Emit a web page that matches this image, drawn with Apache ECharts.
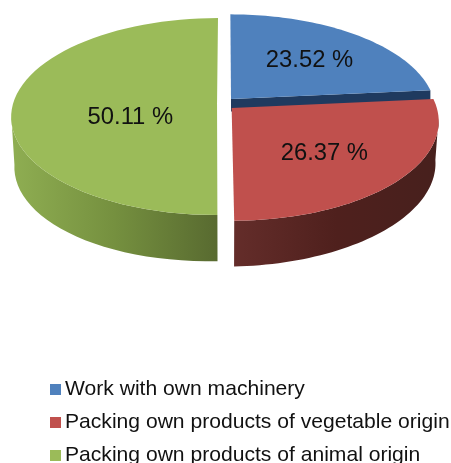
<!DOCTYPE html>
<html>
<head>
<meta charset="utf-8">
<style>
html, body { margin: 0; padding: 0; background: #fff; }
#main { width: 451px; height: 463px; }
</style>
<script src="https://cdn.jsdelivr.net/npm/echarts@6/dist/echarts.min.js"></script>
</head>
<body>
<div id="main"></div>
<script>
var categories = ['Work with own machinery', 'Packing own products of vegetable origin', 'Packing own products of animal origin'];
var values = [23.52, 26.37, 50.11];

var topColors = ['#4f81bd', '#c0504d', '#9bbb59'];
var cutColors = ['#1f3a5f', null, null]; // only the blue cut face shows
var wallStops = [
	['#2a4a75', '#1f3a5f'],
	['#642d2a', '#4f201d', '#47201d'],
	['#8fae52', '#75903f', '#586a30']
];
var labelRadius = [0.57, 0.6, 0.42];
var labelNudge = [[5, 0], [-4, 4], [-1, 14]];

// picture of the tilted pie
var cx = 225.4, cy = 103.7, rx = 204, ry = 96.8;
var persp = 0.13, depth = 46;
var explodeU = 0.041, explodeV = 0.066;

var total = values.reduce(function (a, b) { return a + b; }, 0);

function sliceAngles(index) {
	var start = 0;
	for (var i = 0; i < index; i++) {
		start += values[i] / total * Math.PI * 2;
	}
	return [start, start + values[index] / total * Math.PI * 2];
}

function project(u, v, lower) {
	var s = 1 / (1 + persp * v);
	var x = cx + rx * u * s;
	var y = cy - ry * v * s;
	if (lower) {
		y += depth - 4 * u; // rim looks thicker on the left
		x = cx + (x - cx) * 0.985;
	}
	return [x, y];
}

function renderSlice(params, api) {
	var i = params.seriesIndex;
	var a = sliceAngles(i);
	var mid = (a[0] + a[1]) / 2;
	var du = Math.sin(mid) * explodeU;
	var dv = Math.cos(mid) * explodeV;
	var steps = 60;
	var topArc = [], wallTop = [], wallLow = [];
	for (var k = 0; k <= steps; k++) {
		var t = a[0] + (a[1] - a[0]) * k / steps;
		var p = project(Math.sin(t) + du, Math.cos(t) + dv, false);
		topArc.push(p);
		// the back of the rim is hidden behind the top face
		if (Math.cos(t) < -0.1) {
			wallTop.push(p);
			wallLow.push(project(Math.sin(t) + du, Math.cos(t) + dv, true));
		}
	}
	var apexTop = project(du, dv, false);
	var end = topArc[steps];
	var endLow = project(Math.sin(a[1]) + du, Math.cos(a[1]) + dv, true);

	var xs = topArc.map(function (p) { return p[0]; });
	var stops = wallStops[i].map(function (c, n, all) {
		return { offset: n / (all.length - 1), color: c };
	});
	var wallFill = {
		type: 'linear', global: true,
		x: Math.min.apply(null, xs), y: 0,
		x2: Math.max.apply(null, xs), y2: 0,
		colorStops: stops
	};

	var value = api.value(0);
	var labelPos = project(Math.sin(mid) * labelRadius[i] + du, Math.cos(mid) * labelRadius[i] + dv, false);

	function poly(points, fill) {
		return { type: 'polygon', shape: { points: points }, style: { fill: fill, stroke: null } };
	}

	var children = [];
	if (cutColors[i]) {
		// only a thin strip stays above the next slice
		var cutDepth = (endLow[1] - end[1]) * 0.3;
		children.push(poly([apexTop, end, [end[0], end[1] + cutDepth], [apexTop[0], apexTop[1] + cutDepth]], cutColors[i]));
	}
	if (wallTop.length > 1) {
		children.push(poly(wallTop.concat(wallLow.reverse()), wallFill));
	}
	children.push(poly([apexTop].concat(topArc), topColors[i]));
	children.push({
		type: 'text',
		style: {
			x: labelPos[0] + labelNudge[i][0],
			y: labelPos[1] + labelNudge[i][1],
			text: value.toFixed(2) + ' %',
			align: 'center', verticalAlign: 'middle',
			fill: '#111',
			font: '23.8px "Liberation Sans"'
		}
	});
	return { type: 'group', children: children };
}

var myChart = echarts.init(document.getElementById('main'), null, { renderer: 'canvas' });
var option = {
	animation: false,
	backgroundColor: '#fff',
	color: topColors,
	legend: {
		orient: 'vertical',
		left: 50,
		top: 378,
		height: 200,
		padding: 0,
		itemWidth: 11,
		itemHeight: 11,
		itemGap: 10,
		icon: 'rect',
		selectedMode: false,
		textStyle: {
			color: '#111',
			fontFamily: 'Liberation Sans',
			fontSize: 21.1,
			lineHeight: 21,
			padding: [2, 0, 0, -1]
		},
		data: categories
	},
	series: categories.map(function (name, i) {
		return {
			name: name,
			type: 'custom',
			coordinateSystem: 'none',
			renderItem: renderSlice,
			silent: true,
			data: [[values[i]]]
		};
	})
};
myChart.setOption(option);
</script>
</body>
</html>
